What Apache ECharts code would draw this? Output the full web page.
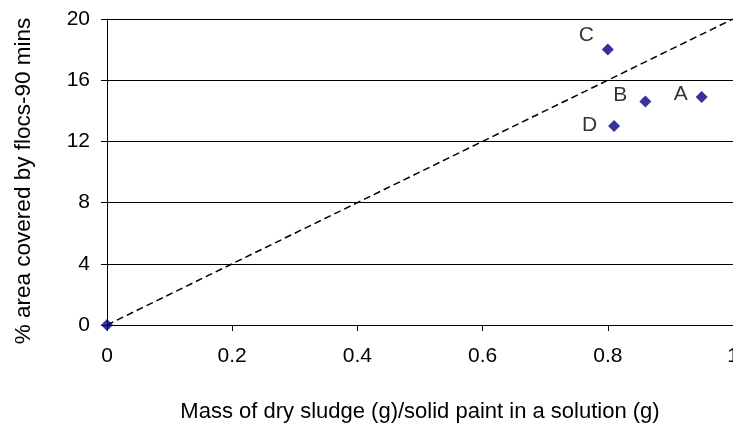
<!DOCTYPE html>
<html>
<head>
<meta charset="utf-8">
<script src="https://cdn.jsdelivr.net/npm/echarts@6/dist/echarts.min.js"></script>
<style>html,body{margin:0;padding:0;background:#fff}</style>
</head>
<body>
<div id="chart" style="width:733px;height:426px"></div>
<script>
// samples: mass ratio vs % area covered by flocs
const sampleNames = ["", "C", "B", "A", "D"];
const massRatio = [0, 0.80, 0.86, 0.95, 0.81];
const areaCovered = [0, 18.0, 14.6, 14.9, 13.0];
const lineX = [0, 1];
const lineY = [0, 20];

// label nudges (styling only)
const labelShift = { C: [0, -14], B: [-4, -6], A: [0, -3], D: [-3, -1] };

const chart = echarts.init(document.getElementById("chart"));
const font = "Liberation Sans, Arial, sans-serif";

const option = {
  animation: false,
  grid: { left: 107, right: 0, top: 19, bottom: 101, outerBoundsMode: "none", containLabel: false },
  xAxis: {
    type: "value",
    min: 0, max: 1, interval: 0.2,
    name: "Mass of dry sludge (g)/solid paint in a solution (g)",
    nameLocation: "middle",
    nameGap: 76,
    nameTextStyle: { fontFamily: font, fontSize: 22, color: "#000" },
    axisLine: { lineStyle: { color: "#000", width: 1 } },
    axisTick: { show: true, length: 6, lineStyle: { color: "#000" } },
    axisLabel: { fontFamily: font, fontSize: 21, color: "#000", margin: 21 },
    splitLine: { show: false }
  },
  yAxis: {
    type: "value",
    min: 0, max: 20, interval: 4,
    name: "% area covered by flocs-90 mins",
    nameLocation: "middle",
    nameGap: 72,
    nameTextStyle: { fontFamily: font, fontSize: 22.5, color: "#000", padding: [0, 18, 0, 0] },
    axisLine: { show: true, lineStyle: { color: "#000", width: 1 } },
    axisTick: { show: true, length: 6, lineStyle: { color: "#000" } },
    axisLabel: { fontFamily: font, fontSize: 21, color: "#000", margin: 17 },
    splitLine: { show: true, lineStyle: { color: "#000", width: 1 } }
  },
  series: [
    {
      type: "line",
      data: lineX.map((x, i) => [x, lineY[i]]),
      symbol: "none",
      lineStyle: { color: "#000", width: 1.5, type: [7, 4] },
      z: 2
    },
    {
      type: "scatter",
      data: massRatio.map((x, i) => ({
        value: [x, areaCovered[i]],
        name: sampleNames[i],
        label: { offset: labelShift[sampleNames[i]] || [0, 0] }
      })),
      symbol: "diamond",
      symbolSize: 12,
      itemStyle: { color: "#000080" },
      label: {
        show: true,
        position: "left",
        distance: 8,
        formatter: p => p.name,
        fontFamily: font,
        fontSize: 21,
        color: "#000"
      },
      z: 3
    }
  ]
};

chart.setOption(option);
window.addEventListener("resize", () => chart.resize());
</script>
</body>
</html>
